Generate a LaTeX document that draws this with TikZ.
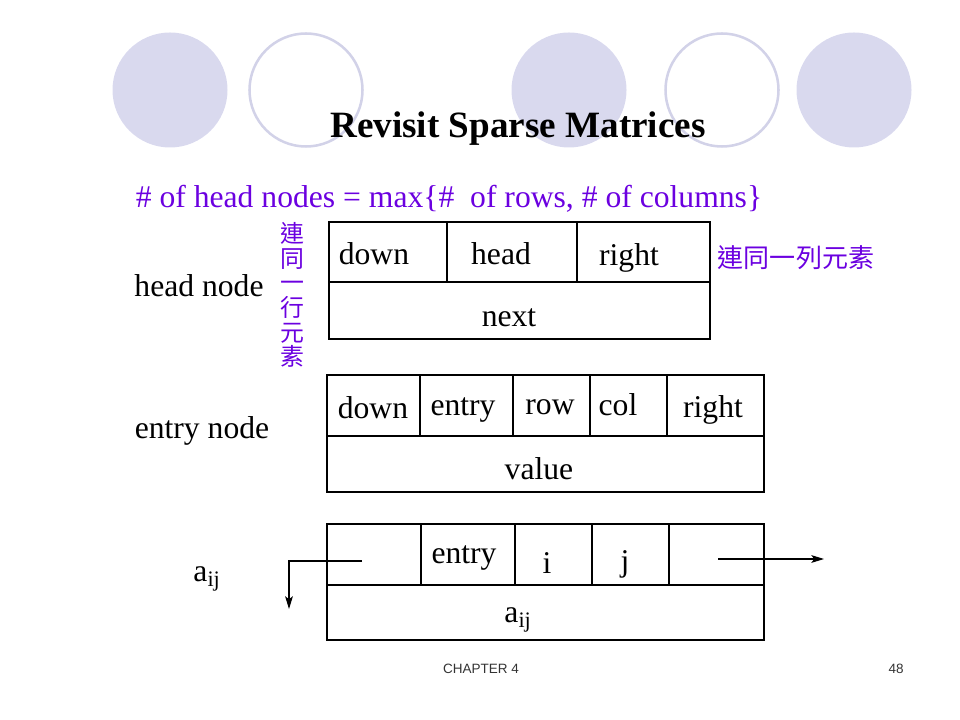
\documentclass[tikz,border=0pt]{standalone}
\usepackage{fontspec}
\setmainfont{Liberation Serif}
\newfontfamily\cjk{Noto Sans CJK TC}
\newfontfamily\footfont{Liberation Sans}
\usetikzlibrary{arrows.meta}

\definecolor{blob}{RGB}{217,217,238}
\definecolor{ring}{RGB}{210,210,232}
\definecolor{note}{RGB}{107,0,224}
\colorlet{foot}{black!80}

\tikzset{
  field/.style={inner sep=0pt, font=\fontsize{22.5}{26}\selectfont},
  cjknote/.style={inner sep=0pt, text=note, font=\cjk\fontsize{18.5}{20}\selectfont},
  box/.style={line width=1pt},
  link/.style={line width=0.9pt, -{Stealth[length=9pt, width=5.5pt, inset=2pt]}}
}

\begin{document}
\begin{tikzpicture}[x=0.025cm, y=-0.025cm]
      \useasboundingbox (0,0) rectangle (960,720);

      % Circles (top)
      \foreach \cx in {170,569,854}
        \fill[blob] (\cx,90) circle (57.5);
      \foreach \cx in {306,722}
        \draw[ring, line width=1.8pt] (\cx,90) circle (56.5);

      % Titles
      \node[inner sep=0pt, font=\bfseries\fontsize{26.4}{30}\selectfont]
        (title) at (518,129) {Revisit Sparse Matrices};
      \node[field, text=note] (count) at (449,199)
        {\# of head nodes = max\{\# \ of rows, \# of columns\}};

      % Head node
      \draw[box] (329,222) rectangle (710,339);
      \draw[box] (329,282) -- (710,282);
      \draw[box] (447,222) -- (447,282);
      \draw[box] (577,222) -- (577,282);
      \node[field] (hdown)  at (374,254) {down};
      \node[field] (hhead)  at (501,254) {head};
      \node[field] (hright) at (629,258) {right};
      \node[field] (hnext)  at (509,318) {next};
      \node[field] (hname)  at (199,286) {head node};
      \node[cjknote, align=center, font=\cjk\fontsize{17}{17.5}\selectfont]
        (colnote) at (292,295) {連\\同\\一\\行\\元\\素};
      \node[cjknote] (rownote) at (796,258) {連同一列元素};

      % Entry node
      \draw[box] (327,375) rectangle (764,492);
      \draw[box] (327,436) -- (764,436);
      \foreach \vx in {420,513,590,667}
        \draw[box] (\vx,375) -- (\vx,436);
      \node[field] (edown)  at (373,408) {down};
      \node[field] (eentry) at (463,410) {entry};
      \node[field] (erow)   at (550,407) {row};
      \node[field] (ecol)   at (618,405) {col};
      \node[field] (eright) at (713,410) {right};
      \node[field] (evalue) at (539,469) {value};
      \node[field] (ename)  at (202,431) {entry node};

      % Element node
      \draw[box] (327,524) rectangle (764,640);
      \draw[box] (327,585) -- (764,585);
      \foreach \vx in {421,515,592,669}
        \draw[box] (\vx,524) -- (\vx,585);
      \node[field] (aentry) at (464,558) {entry};
      \node[field] (ai)     at (547,563) {i};
      \node[field] (aj)     at (625,564) {j};
      \node[field] (aval)   at (518,620) {a\textsubscript{ij}};
      \node[field] (aname)  at (207,579) {a\textsubscript{ij}};

      % Arcs
      \coordinate (dfrom) at (362,561);
      \coordinate (dturn) at (289,561);
      \coordinate (dto)   at (289,609);
      \draw[link] (dfrom) -- (dturn) -- (dto);
      \coordinate (rfrom) at (718,559);
      \coordinate (rto)   at (824,559);
      \draw[link] (rfrom) -- (rto);

      % Footer
      \node[inner sep=0pt, text=foot, font=\footfont\fontsize{9.6}{11}\selectfont]
        (chap) at (481,669) {CHAPTER 4};
      \node[inner sep=0pt, text=foot, font=\footfont\fontsize{9.6}{11}\selectfont]
        (page) at (896,669) {48};
    \end{tikzpicture}
\end{document}
